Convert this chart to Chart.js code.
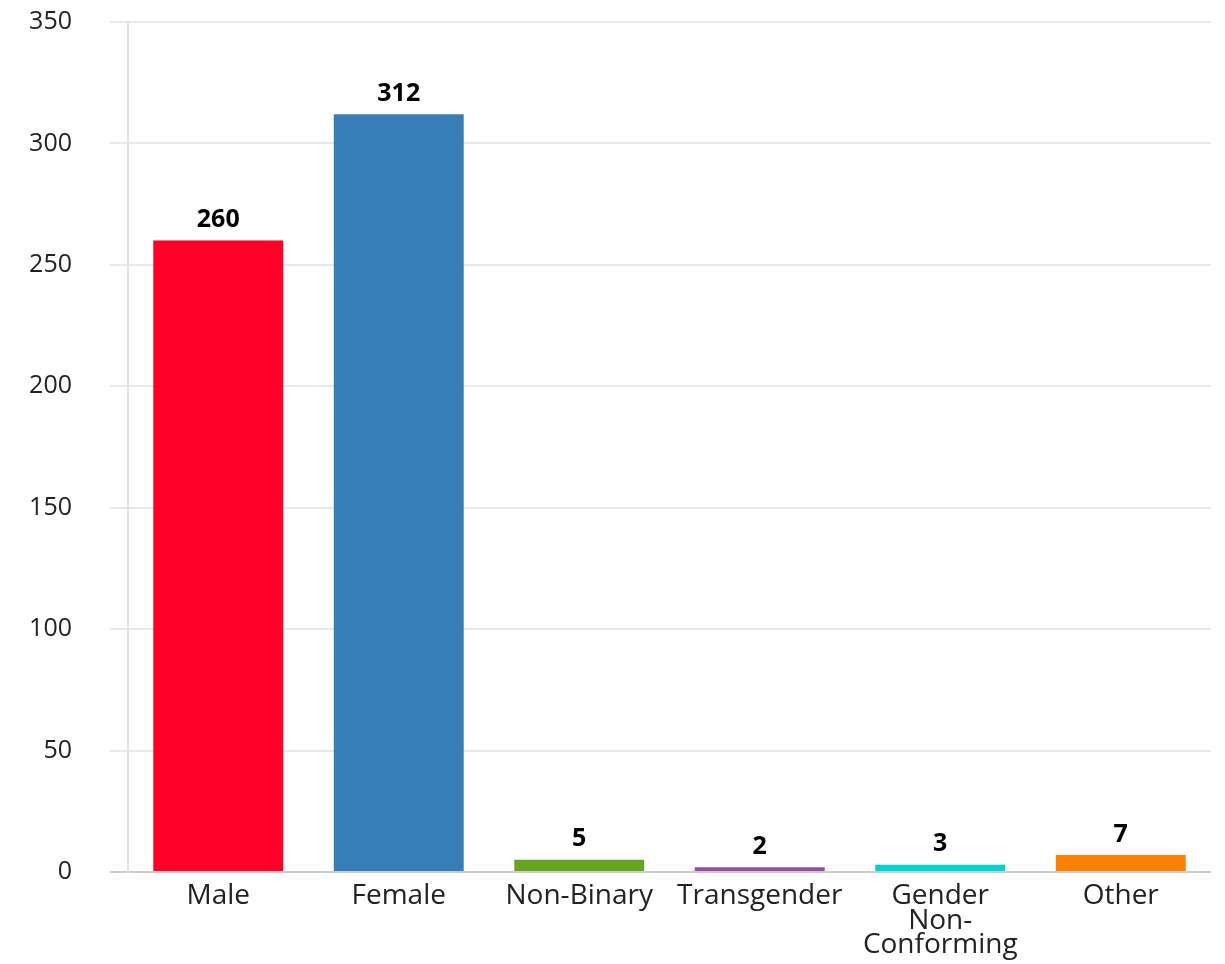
<!DOCTYPE html>
<html>
<head>
<meta charset="utf-8">
<script src="https://cdn.jsdelivr.net/npm/chart.js@4/dist/chart.umd.min.js"></script>
<style>
  html, body { margin: 0; padding: 0; background: #fff; }
  #wrap { width: 1225px; height: 964px; }
</style>
</head>
<body>
<div id="wrap"><canvas id="genderChart" width="1225" height="964"></canvas></div>
<script>
// categories and counts
const categorias = ['Male', 'Female', 'Non-Binary', 'Transgender', ['Gender', 'Non-', 'Conforming'], 'Other'];
const cantidades = [260, 312, 5, 2, 3, 7];
const colores = ['#FF0029', '#377EB8', '#66A61E', '#984EA3', '#00D2D5', '#FF7F00'];
const yMax = 350;
const yStep = 50;

// dibuja el valor encima de cada barra
const etiquetasValor = {
    id: 'etiquetasValor',
    afterDatasetsDraw(chart) {
        const ctx = chart.ctx;
        const meta = chart.getDatasetMeta(0);
        ctx.save();
        ctx.font = 'bold 25px "Open Sans"';
        ctx.fillStyle = '#000';
        ctx.textAlign = 'center';
        ctx.textBaseline = 'bottom';
        meta.data.forEach((bar, i) => {
            ctx.fillText(String(cantidades[i]), bar.x, bar.y - 8);
        });
        ctx.restore();
    }
};

const ctx = document.getElementById('genderChart').getContext('2d');

new Chart(ctx, {
    type: 'bar',
    data: {
        labels: categorias,
        datasets: [{
            data: cantidades,
            backgroundColor: colores,
            borderWidth: 0
        }]
    },
    options: {
        responsive: false,
        animation: false,
        layout: { padding: { top: 0, right: 14, bottom: 0, left: 0 } },
        plugins: {
            legend: { display: false },
            tooltip: { enabled: false }
        },
        scales: {
            x: {
                grid: { display: false },
                border: { display: false },
                ticks: {
                    color: '#222',
                    font: { family: '"Open Sans"', size: 28, lineHeight: 0.87 },
                    padding: 4,
                    maxRotation: 0,
                    autoSkip: false
                },
                afterFit: s => { s.height = 92; }
            },
            y: {
                min: 0,
                max: yMax,
                ticks: {
                    stepSize: yStep,
                    color: '#222',
                    font: { family: '"Open Sans"', size: 25 },
                    padding: 38
                },
                grid: {
                    color: c => c.tick && c.tick.value === 0 ? '#cccccc' : '#e8e8e8',
                    lineWidth: 2,
                    tickLength: 18
                },
                border: { display: true, color: '#e4e4e4', width: 2 },
                // el padding de los ticks no debe empujar el area hacia abajo
                afterFit: s => { s.width = 128; s.paddingTop = 22; s.paddingBottom = 0; }
            }
        }
    },
    plugins: [etiquetasValor]
});
</script>
</body>
</html>
